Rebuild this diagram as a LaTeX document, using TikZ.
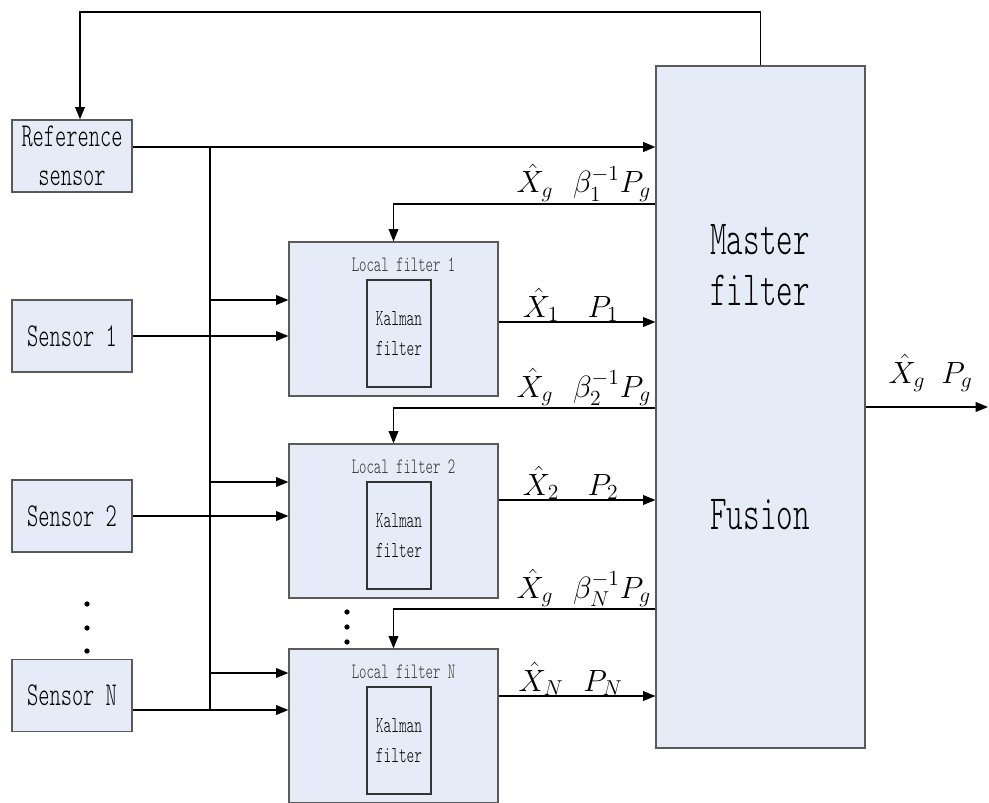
\RequirePackage{fix-cm}
\documentclass[tikz,border=0pt]{standalone}
\usepackage{amsmath}
\usepackage{fontspec}
\newfontfamily\boxfont[FakeStretch=0.64]{lmmonolt10-regular.otf}
\usetikzlibrary{arrows.meta, positioning, calc}
\definecolor{boxfill}{RGB}{230,236,247}
\definecolor{boxline}{RGB}{90,90,90}

\begin{document}
\begin{tikzpicture}[x=0.02cm, y=-0.02cm,
    blk/.style={draw=boxline, fill=boxfill, line width=0.7pt, inner sep=0pt, align=center},
    sensor/.style={blk, minimum width=2.4cm, minimum height=1.44cm, font=\boxfont\fontsize{19}{22}\selectfont},
    local/.style={blk, minimum width=4.18cm, minimum height=3.08cm},
    kalman/.style={blk, draw=black!80, minimum width=1.28cm, minimum height=2.14cm, font=\boxfont\fontsize{13}{17}\selectfont},
    ttl/.style={inner sep=0pt, text=black!80, font=\boxfont\fontsize{12.5}{14}\selectfont},
    big/.style={align=center, inner sep=0pt, font=\boxfont\fontsize{28}{29}\selectfont},
    sig/.style={-{Triangle[length=7pt,width=5.5pt]}, line width=0.8pt},
    wire/.style={line width=0.8pt},
    lbl/.style={anchor=base, inner sep=0pt, font=\fontsize{17.5}{18}\selectfont},
    dot/.style={circle, fill, inner sep=0pt, minimum size=3pt}
]
    \path[use as bounding box] (0,0) rectangle (989,803);
    \clip (0,0) rectangle (989,803);

    \node[sensor] (ref) at (72,156)   {Reference\\sensor};
    \node[sensor] (s1)  at (72,336)   {Sensor 1};
    \node[sensor] (s2)  at (72,516)   {Sensor 2};
    \node[sensor] (sN)  at (72,695.5) {Sensor N};

    \node[blk, minimum width=4.18cm, minimum height=13.64cm] (master) at (760.5,407) {};
    \node[big] (mtxt) at (760,265) {Master\\filter};
    \node[big] (ftxt) at (760,515) {Fusion};

    \foreach \k/\y in {1/319, 2/521, N/726} {
        \node[local] (lf\k) at (393.5,\y) {};
        \node[ttl] (lt\k) at ($(lf\k.north)+(10,23)$) {Local filter \k};
        \node[kalman] (kf\k) at ($(lf\k.center)+(5.5,14.5)$) {Kalman\\filter};
    }

    \coordinate (fb)  at (80,12);
    \coordinate (bus) at (210,147);
    \coordinate (out) at (988,407);

    \draw[sig] (master.north) |- (fb) -- (fb |- ref.north);
    \draw[sig, line width=1.1pt] (ref.east |- bus) -- (master.west |- bus);
    \draw[wire] (bus) -- (bus |- 0,710);

    \foreach \k/\br/\in in {1/300/336, 2/482/516, N/673/710} {
        \draw[sig] (bus |- 0,\br) -- (lf\k.west |- 0,\br);
        \draw[sig] (s\k.east |- 0,\in) -- (lf\k.west |- 0,\in);
    }

    \foreach \k/\y in {1/204, 2/408, N/609} {
        \draw[sig] (master.west |- 0,\y) -| (lf\k.north);
        \node[lbl] (xg\k) at (535,\y-11) {$\hat{X}_g$};
        \node[lbl] (bg\k) at (612,\y-11) {$\beta_{\k}^{-1}P_g$};
    }

    \foreach \k/\y in {1/322, 2/500, N/696} {
        \draw[sig] (lf\k.east |- 0,\y) -- (master.west |- 0,\y);
        \node[lbl] (xo\k) at (541,\y-5) {$\hat{X}_{\k}$};
        \node[lbl] (po\k) at (603,\y-5) {$P_{\k}$};
    }

    \draw[sig] (master.east |- out) -- (out);
    \node[lbl] (xout) at (907,383) {$\hat{X}_g$};
    \node[lbl] (pout) at (957,383) {$P_g$};

    \foreach \y [count=\i] in {604,628,651} \node[dot] (sd\i) at (87,\y) {};
    \foreach \y [count=\i] in {612,627,642} \node[dot] (ld\i) at (347,\y) {};
\end{tikzpicture}
\end{document}
